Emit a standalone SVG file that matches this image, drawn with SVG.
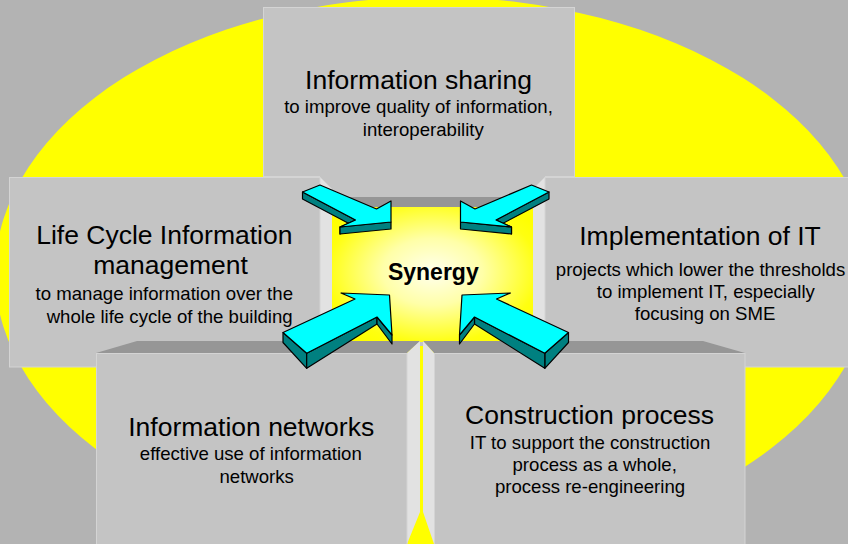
<svg xmlns="http://www.w3.org/2000/svg" xmlns:xlink="http://www.w3.org/1999/xlink" width="848" height="544" viewBox="0 0 848 544">
<defs>
<radialGradient id="glow" cx="0.5" cy="0.48" r="0.62">
<stop offset="0" stop-color="#ffffee"/>
<stop offset="0.4" stop-color="#ffffa8"/>
<stop offset="0.85" stop-color="#ffff10"/>
<stop offset="1" stop-color="#ffff00"/>
</radialGradient>
<g id="arrowUL">
<path class="side" d="M355.5,220 L302.5,192 L302.5,199 L355.5,227 Z"/>
<path class="side" d="M340,227 L355.5,220 L355.5,227 L340,234 Z"/>
<path class="side" d="M391,222 L340,227 L340,234 L391,229 Z"/>
<path class="top" d="M302.5,192 L320,185 L376.5,209 L391,201 L391,222 L340,227 L355.5,220 Z"/>
</g>
<g id="arrowLL">
<path class="side" d="M283,332.5 L306.7,353.3 L306.7,368.3 L283,342.5 Z"/>
<path class="side" d="M377,317 L306.7,353.3 L306.7,368.3 L377,324 Z"/>
<path class="side" d="M392,335 L377,317 L377,324 L392,344 Z"/>
<path class="top" d="M283,332.5 L355,299 L341,293 L389.5,295 L392,335 L377,317 L306.7,353.3 Z"/>
</g>
</defs>
<style>
.face{fill:#c4c4c4;stroke:#d4d4d4;stroke-width:1}
.topf{fill:#969696}
.sidef{fill:#e2e2e2}
.side{fill:#008080;stroke:#000;stroke-width:1.2;stroke-linejoin:round}
.top{fill:#00ffff;stroke:#000;stroke-width:1.2;stroke-linejoin:round}
text{font-family:"Liberation Sans",Arial,sans-serif;fill:#000;text-anchor:middle}
.t{font-size:26.5px}
.s{font-size:18.6px}
.b{font-size:23px;font-weight:bold}
</style>
<rect x="0" y="0" width="848" height="544" fill="#b3b3b3"/>
<ellipse cx="433" cy="273" rx="438" ry="276" fill="#ffff00"/>

<g id="node-sharing">
<rect class="face" x="263.5" y="7.5" width="311" height="169"/>
<text class="t" x="418.5" y="88.5">Information sharing</text>
<text class="s" x="418.5" y="113">to improve quality of information,</text>
<text class="s" x="423.3" y="135.5">interoperability</text>
</g>

<g id="node-synergy">
<rect x="320" y="176" width="225" height="170" fill="#c4c4c4"/>
<rect x="332" y="197" width="201" height="11" class="topf"/>
<rect x="332" y="207" width="201" height="135" fill="url(#glow)"/>
<text class="b" x="433.3" y="280">Synergy</text>
</g>

<g id="node-lifecycle">
<polygon class="sidef" points="320,177 332,189 332,356 320,367"/>
<rect class="face" x="9.5" y="177.5" width="310.5" height="189.5"/>
<text class="t" x="164.3" y="244">Life Cycle Information</text>
<text class="t" x="170.5" y="274">management</text>
<text class="s" x="164.3" y="299.5">to manage information over the</text>
<text class="s" x="169.7" y="322.5">whole life cycle of the building</text>
</g>

<g id="node-implementation">
<polygon class="sidef" points="545,177 533,189 533,356 545,367"/>
<rect class="face" x="545" y="177.5" width="305" height="189.5"/>
<text class="t" x="700" y="245">Implementation of IT</text>
<text class="s" x="700.5" y="275.5">projects which lower the thresholds</text>
<text class="s" x="705.8" y="298">to implement IT, especially</text>
<text class="s" x="705" y="320">focusing on SME</text>
</g>

<g id="node-networks">
<polygon class="topf" points="137,341 420,341 407,353 96,353"/>
<polygon class="sidef" points="407,353 420,341 420,512 407,544"/>
<rect class="face" x="96.5" y="353.5" width="310.5" height="195"/>
<text class="t" x="251.2" y="436">Information networks</text>
<text class="s" x="250.8" y="460">effective use of information</text>
<text class="s" x="256.7" y="482.5">networks</text>
</g>

<g id="node-construction">
<polygon class="topf" points="423,341 703,341 745,353 434,353"/>
<polygon class="sidef" points="423,341 434,353 434,544 423,512"/>
<rect class="face" x="434.5" y="353.5" width="310.5" height="195"/>
<text class="t" x="589.5" y="424.3">Construction process</text>
<text class="s" x="590" y="449">IT to support the construction</text>
<text class="s" x="594.7" y="471">process as a whole,</text>
<text class="s" x="590" y="493">process re-engineering</text>
</g>

<g id="connectors">
<use xlink:href="#arrowUL"/>
<use xlink:href="#arrowUL" transform="translate(851.5,0) scale(-1,1)"/>
<use xlink:href="#arrowLL"/>
<use xlink:href="#arrowLL" transform="translate(851.5,0) scale(-1,1)"/>
</g>
</svg>
